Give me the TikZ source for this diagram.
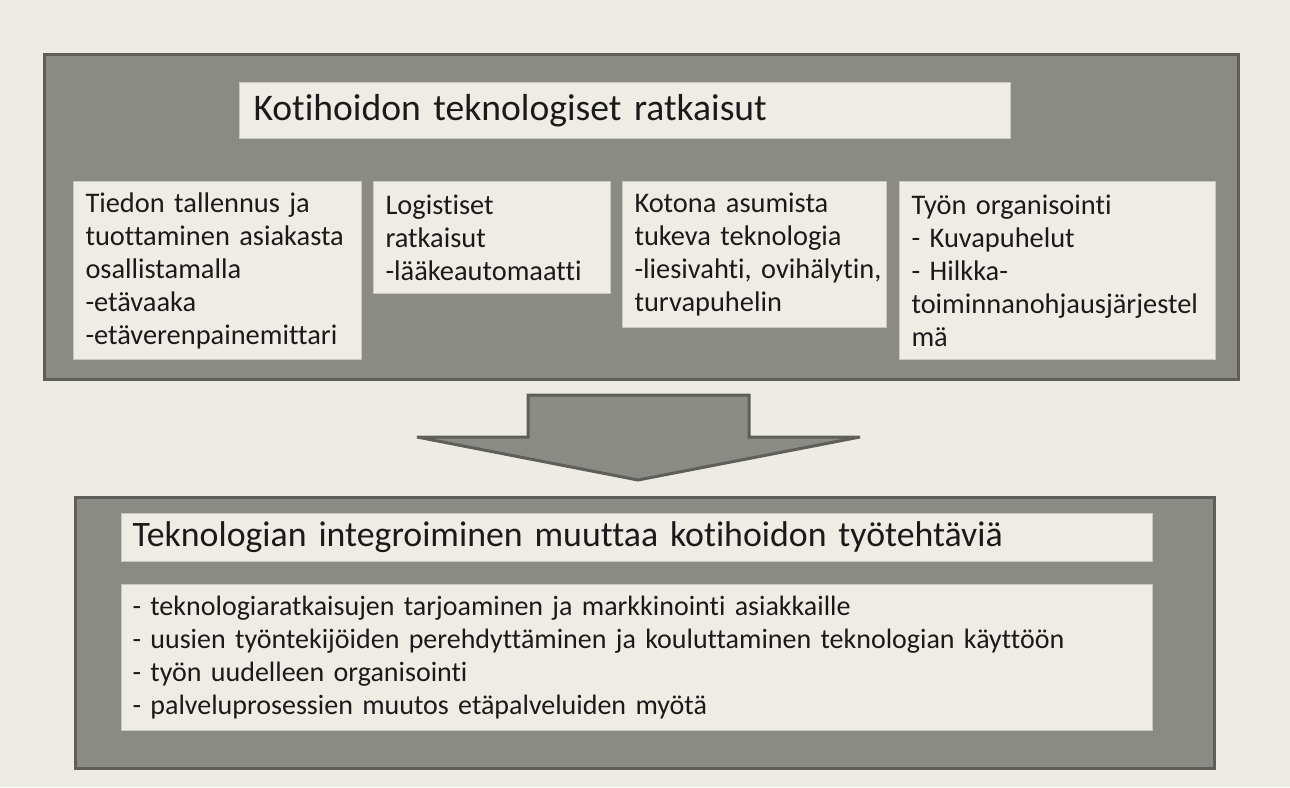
\documentclass[tikz,border=0pt]{standalone}
\usepackage{fontspec}
\setmainfont{Carlito}[Ligatures=NoCommon]
\usepackage{tikz}
\usetikzlibrary{
  arrows.meta,
  positioning,
  calc
}
\definecolor{khBack}{HTML}{EEEBE4}
\definecolor{khPanel}{HTML}{8A8B84}
\definecolor{khPanelLine}{HTML}{5E5F5A}
\definecolor{khCream}{HTML}{EFECE5}
\definecolor{khBoxLine}{HTML}{C9C7BF}
\definecolor{khText}{HTML}{1A1A1A}
\tikzset{
  panel/.style={
    draw=khPanelLine, fill=khPanel, line width=1.6pt, anchor=north west
  },
  khbox/.style={
    draw=khBoxLine, fill=khCream, line width=0.5pt, anchor=north west,
    align=left, text=khText, inner xsep=6pt, inner ysep=0pt,
    font=\fontsize{14.2}{16.5}\selectfont
  },
  headbox/.style={khbox, font=\fontsize{18.8}{22}\selectfont},
  blockarrow/.style={draw=khPanelLine, fill=khPanel, line width=1.5pt, line join=miter}
}

\begin{document}
\begin{tikzpicture}[x=0.5pt, y=-0.5pt]
  \fill[khBack] (0,0) rectangle (1290,787);
  \useasboundingbox (0,0) rectangle (1290,787);

  % upper panel
  \node[panel, minimum width=597pt, minimum height=162.5pt] (toppanel) at (43,53) {};
  \node[headbox, minimum width=385.5pt, minimum height=28pt, text width=371.5pt, inner xsep=7pt] (tophead) at (239,82)
    {Kotihoidon teknologiset ratkaisut};

  \node[khbox, minimum height=89pt, text width=132pt] (tiedon) at (73,181)
    {Tiedon tallennus ja\\ tuottaminen asiakasta\\ osallistamalla\\ -etävaaka\\ -etäverenpainemittari};
  \node[khbox, minimum height=56pt, text width=106.5pt, right=5.5pt of tiedon.north east, anchor=north west] (logist)
    {Logistiset\\ ratkaisut\\ -lääkeautomaatti};
  \node[khbox, minimum height=73pt, text width=120pt, right=5.5pt of logist.north east, anchor=north west] (kotona)
    {Kotona asumista\\ tukeva teknologia\\ \mbox{-liesivahti, ovihälytin,}\\ turvapuhelin};
  \node[khbox, minimum height=89pt, text width=146pt, right=6pt of kotona.north east, anchor=north west] (tyon)
    {Työn organisointi\\ - Kuvapuhelut\\ - Hilkka-\\ toiminnanohjausjärjestel\\ mä};

  % arrow between panels
  \draw[blockarrow] (528,395) -- (749,395) -- (749,437) -- (860,437)
    -- (638,480) -- (417,437) -- (528,437) -- cycle;

  % lower panel
  \node[panel, minimum width=569.5pt, minimum height=135.5pt] (botpanel) at (74,496) {};
  \node[headbox, minimum width=515.5pt, minimum height=24pt, text width=504.5pt, inner xsep=5.5pt,
    font=\fontsize{17.9}{21}\selectfont] (bothead) at (121,513)
    {Teknologian integroiminen muuttaa kotihoidon työtehtäviä};
  \node[khbox, minimum width=515.5pt, minimum height=73pt, text width=504.5pt, inner xsep=5.5pt,
    font=\fontsize{14}{16.5}\selectfont] (muutos) at (121,584)
    {- teknologiaratkaisujen tarjoaminen ja markkinointi asiakkaille\\
     - uusien työntekijöiden perehdyttäminen ja kouluttaminen teknologian käyttöön\\
     - työn uudelleen organisointi\\
     - palveluprosessien muutos etäpalveluiden myötä};
\end{tikzpicture}
\end{document}
